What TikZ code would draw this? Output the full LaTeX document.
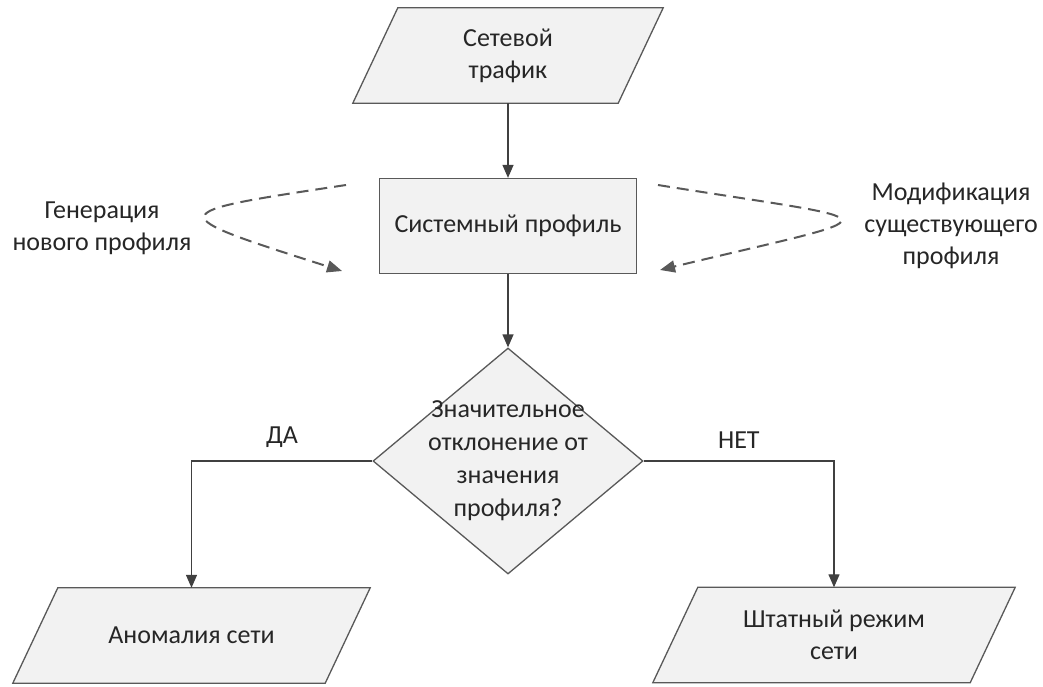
\documentclass[tikz,border=0pt]{standalone}
\usepackage{fontspec}
\setmainfont{Carlito}
\usetikzlibrary{arrows.meta,shapes.geometric,backgrounds,calc}
\begin{document}
\begin{tikzpicture}[x=1pt,y=-1pt,
  lbl/.style={font=\fontsize{26}{32}\selectfont, align=center, text=black!85, inner sep=0pt},
  box/.style={draw=black!65, line width=1.3pt, fill=black!5},
  conn/.style={draw=black!75, line width=1.3pt},
  arr/.style={conn, -{Triangle[length=13pt,width=11pt]}},
  darr/.style={draw=black!65, line width=2pt, dash pattern=on 12pt off 7pt, -{Triangle[length=15pt,width=12pt]}},
  parabox/.style={lbl, minimum width=#1, minimum height=95pt}
]
\useasboundingbox (0,0) rectangle (1043,686);

% nodes
\node[parabox=265pt] (traffic) at (508,55.5) {Сетевой\\трафик};
\node[lbl, box, minimum width=257pt, minimum height=95pt] (sys) at (508,226) {Системный профиль};
\node[diamond, box, minimum width=270pt, minimum height=226pt, inner sep=0pt] (dec) at (508,461) {};
\node[lbl, font=\fontsize{26}{33}\selectfont] (dect) at (dec.center) {Значительное\\отклонение от\\значения\\профиля?};
\node[parabox=312pt] (anom) at (191.5,635.5) {Аномалия сети};
\node[parabox=317pt] (norm) at (834,635) {Штатный режим\\сети};

\node[lbl] (gen) at (102,228) {Генерация\\нового профиля};
\node[lbl] (mod) at (951,226) {Модификация\\существующего\\профиля};

% white page and parallelograms behind text
\begin{scope}[on background layer]
  \fill[white] (0,0) rectangle (1043,686);
  \foreach \n in {traffic,anom,norm}{
    \path[box] ([xshift=22.5pt]\n.north west) -- ([xshift=22.5pt]\n.north east)
      -- ([xshift=-22.5pt]\n.south east) -- ([xshift=-22.5pt]\n.south west) -- cycle;
  }
\end{scope}

% connectors
\draw[arr] (traffic.south) -- (sys.north);
\draw[arr] (sys.south) -- (dec.north);
\draw[arr] (dec.west) -| node[lbl, pos=0.25, yshift=24pt] (yes) {ДА} (anom.north);
\draw[arr] (dec.east) -| node[lbl, pos=0.25, yshift=21pt] (no) {НЕТ} (norm.north);

% dashed feedback arrows
\coordinate (ls) at (346,185);
\coordinate (le) at (342,271);
\coordinate (rs) at (658,185);
\coordinate (re) at (660,270);
\draw[darr] (ls) .. controls (160,213) and (160,213) .. (le);
\draw[darr] (rs) .. controls (900,224) and (900,212) .. (re);
\end{tikzpicture}
\end{document}
